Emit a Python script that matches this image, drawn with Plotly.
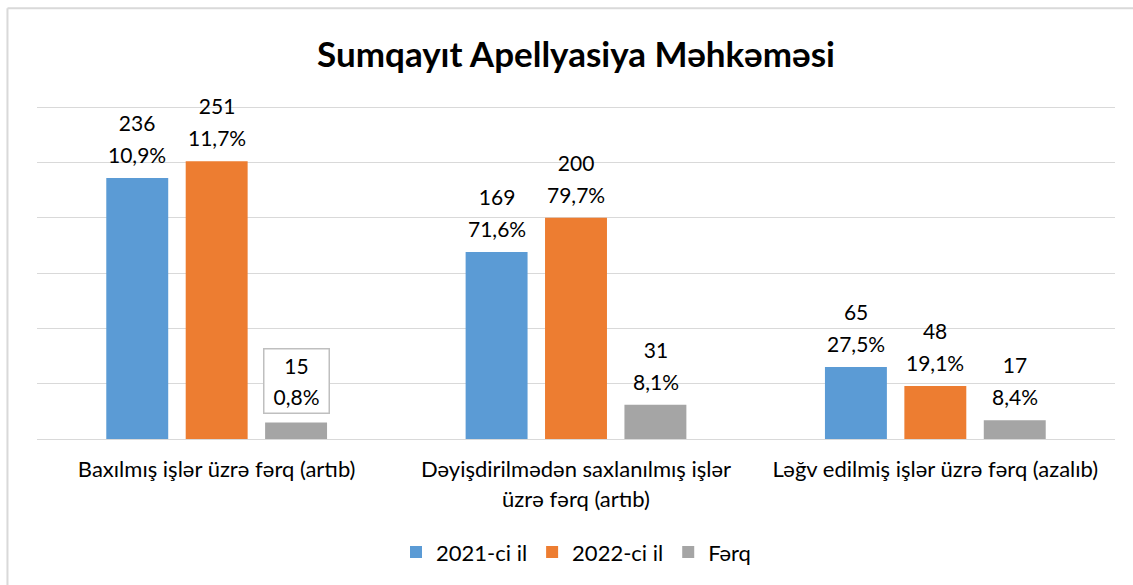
import plotly.graph_objects as go

categories = [
    "Baxılmış işlər üzrə fərq (artıb)",
    "Dəyişdirilmədən saxlanılmış işlər<br>üzrə fərq (artıb)",
    "Ləğv edilmiş işlər üzrə fərq (azalıb)",
]
series_names = ["2021-ci il", "2022-ci il", "Fərq"]
values_2021 = [236, 169, 65]
values_2022 = [251, 200, 48]
values_diff = [15, 31, 17]
pct_2021 = ["10,9%", "71,6%", "27,5%"]
pct_2022 = ["11,7%", "79,7%", "19,1%"]
pct_diff = ["0,8%", "8,1%", "8,4%"]
title = "Sumqayıt Apellyasiya Məhkəməsi"

colors = ["#5B9BD5", "#ED7D31", "#A5A5A5"]
FONT = "Lato, 'Noto Sans', sans-serif"
LABEL_SIZE = 21      # glyph size
LABEL_LINE = 24.5    # controls line spacing (1.3 x this)
TICK_SIZE = 22
TICK_LINE = 23
BAR_PITCH = 79.5     # px between neighbouring bars in a group


def sized(lines, size):
    return "<br>".join(f"<span style='font-size:{size}px'>{l}</span>" for l in lines)


tick_text = [sized(c.split("<br>"), TICK_SIZE) for c in categories]

fig = go.Figure()
data = [
    (values_2021, pct_2021),
    (values_2022, pct_2022),
    (values_diff, pct_diff),
]
boxed = {(2, 0)}  # (series index, category index) with a framed label

for s, (name, (vals, pcts), col) in enumerate(zip(series_names, data, colors)):
    fig.add_trace(go.Bar(
        x=categories, y=vals, name=name,
        marker=dict(color=col, line=dict(width=0)),
    ))
    for c, (cat, v, p) in enumerate(zip(categories, vals, pcts)):
        is_boxed = (s, c) in boxed
        fig.add_annotation(
            x=cat, y=v, xref="x", yref="y",
            text=sized([str(v), p], LABEL_SIZE),
            showarrow=False, xshift=(s - 1) * BAR_PITCH,
            yshift=8 if is_boxed else 11, yanchor="bottom",
            font=dict(family=FONT, size=LABEL_LINE, color="#000000"),
            bordercolor="#BFBFBF" if is_boxed else "rgba(0,0,0,0)",
            borderwidth=1.5 if is_boxed else 0,
            borderpad=3 if is_boxed else 0,
            bgcolor="white" if is_boxed else "rgba(0,0,0,0)",
            width=58 if is_boxed else None,
        )

# outer chart border (top and left visible)
fig.add_shape(type="line", xref="paper", yref="paper",
              x0=-0.0274, x1=-0.0274, y0=-0.6, y1=1.2937,
              line=dict(color="#D9D9D9", width=2))
fig.add_shape(type="line", xref="paper", yref="paper",
              x0=-0.0274, x1=1.1, y0=1.2937, y1=1.2937,
              line=dict(color="#D9D9D9", width=2))

fig.update_layout(
    width=1133, height=585,
    margin=dict(l=37, r=18, t=106, b=146, autoexpand=False),
    paper_bgcolor="white", plot_bgcolor="white",
    barmode="group", bargap=0.337, bargroupgap=0.22,
    title=dict(text=f"<b>{title}</b>", x=0.5, xref="paper", xanchor="center",
               y=0.906, yanchor="middle",
               font=dict(family=FONT, size=35, color="#000000")),
    legend=dict(orientation="h", x=0.5, xanchor="center", y=-0.34,
                yanchor="middle", font=dict(family=FONT, size=22, color="#000000"),
                itemwidth=30, traceorder="normal"),
    showlegend=True,
    font=dict(family=FONT),
)
fig.update_yaxes(range=[0, 301], tickvals=[0, 50, 100, 150, 200, 250, 300],
                 showticklabels=False,
                 showgrid=True, gridcolor="#D9D9D9", gridwidth=1,
                 zeroline=True, zerolinecolor="#D9D9D9", zerolinewidth=1,
                 showline=False, automargin=False)
fig.update_xaxes(showgrid=False, showline=False, ticks="",
                 tickmode="array", tickvals=categories, ticktext=tick_text,
                 ticklabelstandoff=14,
                 automargin=False,
                 tickfont=dict(family=FONT, size=TICK_LINE, color="#000000"))

fig.write_html("out.html", config={"displayModeBar": False},
               post_script="document.body.style.margin='0';window.dispatchEvent(new Event('resize'));")
